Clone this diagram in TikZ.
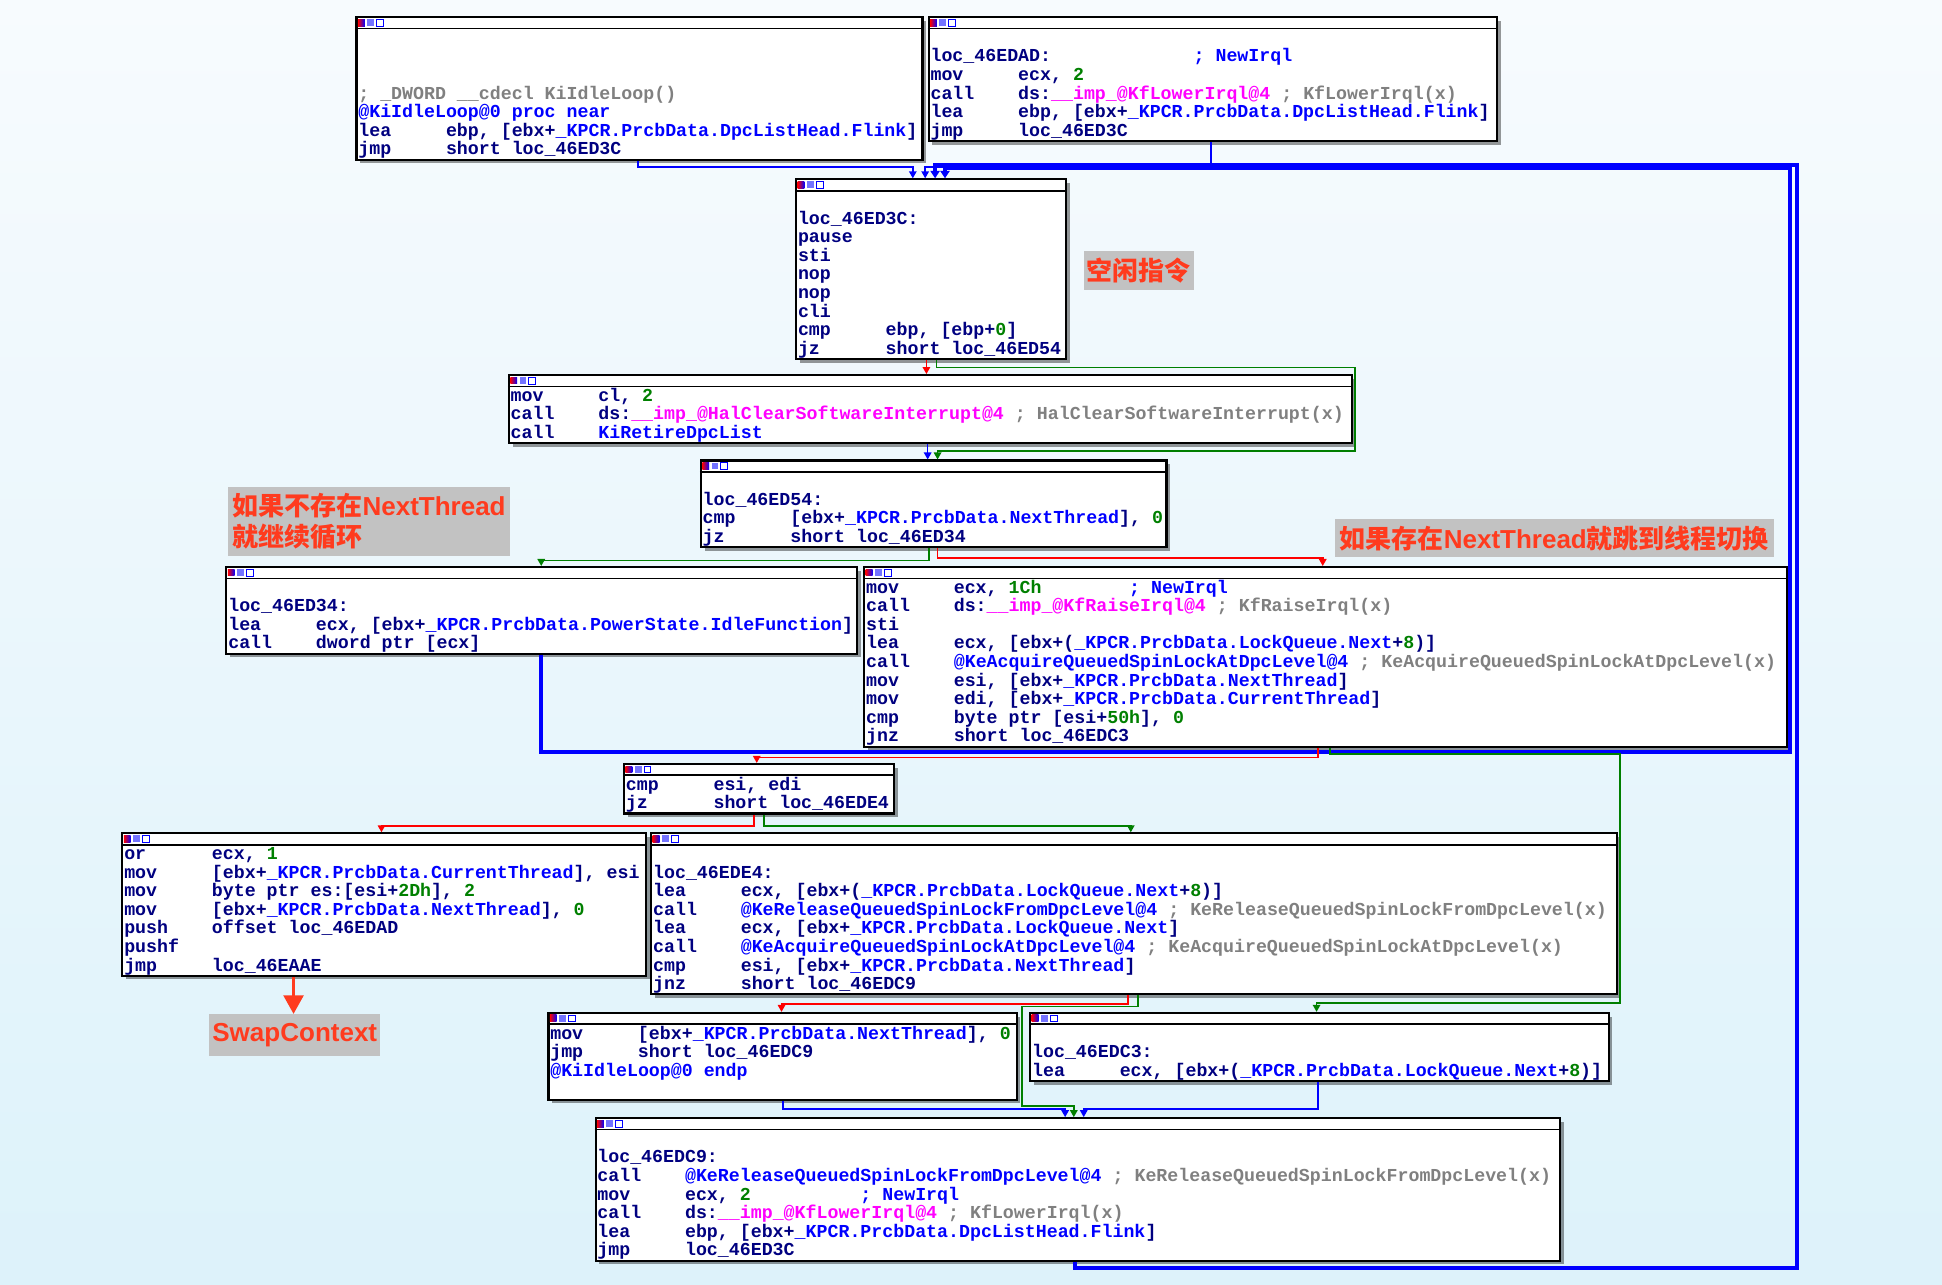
\documentclass[tikz,border=0pt]{standalone}
\usepackage{fontspec}
\usetikzlibrary{arrows.meta,calc,shadows}
\newfontfamily\idafont{Liberation Mono}
\newfontfamily\cjkfont{Noto Sans CJK SC}
\newfontfamily\latfont{Liberation Sans}
\definecolor{idanavy}{HTML}{000080}
\definecolor{idablue}{HTML}{0000FF}
\definecolor{idagreen}{HTML}{008000}
\definecolor{idapink}{HTML}{FF00FF}
\definecolor{idagray}{HTML}{808080}
\definecolor{lblred}{HTML}{FF3B1E}
\definecolor{lblgray}{HTML}{C2C2C2}
\definecolor{bgtop}{HTML}{F7FBFE}
\definecolor{bgbot}{HTML}{DDF2FA}
\definecolor{edgeblue}{HTML}{0000FF}
\definecolor{edgegreen}{HTML}{007F00}
\definecolor{edgered}{HTML}{FF0000}

\newlength\cw \setlength\cw{5.31pt}
\newcommand\asmfont{\idafont\bfseries\fontsize{8.85}{9}\selectfont\lineskiplimit=-20pt}
\newcommand\rs{\rule[-2pt]{0pt}{9pt}}
\newcommand\ins[2]{\makebox[8\cw][l]{#1}#2}
\newcommand\pad[2]{\makebox[#1\cw][l]{#2}}
\newcommand\nm[1]{\textcolor{idablue}{#1}}
\newcommand\nb[1]{\textcolor{idagreen}{#1}}
\newcommand\im[1]{\textcolor{idapink}{#1}}
\newcommand\cm[1]{\textcolor{idagray}{#1}}
\newcommand\lat[1]{{\latfont\fontsize{12.6}{15}\selectfont #1}}

\begin{document}
\begin{tikzpicture}[x=0.6pt, y=-0.6pt,
  block/.style={draw=black, line width=1pt, fill=white, rectangle, inner sep=0pt, anchor=north west,
    drop shadow={shadow xshift=1.8pt, shadow yshift=-1.8pt, fill=black, opacity=0.4}},
  asm/.style={font=\asmfont, text=idanavy, align=left, inner sep=0pt, anchor=north west},
  note/.style={fill=lblgray, text=lblred, font=\cjkfont\bfseries\fontsize{12.6}{15}\selectfont, inner sep=0pt},
  jmp/.style={draw=edgeblue, line width=0.8pt, -{Triangle[length=3.4pt,width=3.6pt]}},
  back/.style={draw=edgeblue, line width=1.8pt, -{Triangle[length=3.6pt,width=4.4pt]}},
  tru/.style={draw=edgegreen, line width=0.8pt, -{Triangle[length=3.4pt,width=3.6pt]}},
  fls/.style={draw=edgered, line width=0.8pt, -{Triangle[length=3.4pt,width=3.6pt]}},
  swaparrow/.style={draw=lblred, line width=1.7pt, -{Triangle[length=9pt,width=9.5pt]}}]
\useasboundingbox (0,0) rectangle (1568,1037);
\shade[top color=bgtop, bottom color=bgbot] (0,0) rectangle (1568,1037);

% blocks: name/x/y/width/rows
\foreach \id/\bx/\by/\bw/\bk in {A/287/13/457/7, B/749/13/459/6, C/642/144/218/9, D/410/302/681/3,
    E/565/371/376/4, F/182/457/509/4, G/697/457/745/9, H/503/616/218/2, I/98/672/423/7,
    J/525/672/780/8, K/442/817/378/4, L/831/817/467/3, M/480/902/779/7} {
  \node[block, minimum width=\bw*0.6pt, minimum height={(10+15*\bk)*0.6pt}] (\id) at (\bx,\by) {};
  \draw[line width=0.8pt] ($(\id.north west)+(0,10)$) -- ($(\id.north east)+(0,10)$);
  \shade[left color=red, right color=blue] ($(\id.north west)+(2,2.5)$) rectangle ++(5.5,5.5);
  \fill[blue!55] ($(\id.north west)+(9.5,2.5)$) rectangle ++(5.5,5.5);
  \draw[blue, line width=0.4pt, fill=white] ($(\id.north west)+(17,2.5)$) rectangle ++(5.5,5.5);
}

\node[asm] (At) at ($(A.north west)+(2,10)$) {\rs\\\rs\\\rs\\
  \rs\cm{; \_DWORD \_\_cdecl KiIdleLoop()}\\
  \rs\nm{@KiIdleLoop@0 proc near}\\
  \rs\ins{lea}{ebp, [ebx+\nm{\_KPCR.PrcbData.DpcListHead.Flink}]}\\
  \rs\ins{jmp}{short loc\_46ED3C}};
\node[asm] (Bt) at ($(B.north west)+(2,10)$) {\rs\\
  \rs\pad{24}{loc\_46EDAD:}\nm{; NewIrql}\\
  \rs\ins{mov}{ecx, \nb{2}}\\
  \rs\ins{call}{ds:\im{\_\_imp\_@KfLowerIrql@4} \cm{; KfLowerIrql(x)}}\\
  \rs\ins{lea}{ebp, [ebx+\nm{\_KPCR.PrcbData.DpcListHead.Flink}]}\\
  \rs\ins{jmp}{loc\_46ED3C}};
\node[asm] (Ct) at ($(C.north west)+(2,10)$) {\rs\\
  \rs loc\_46ED3C:\\ \rs pause\\ \rs sti\\ \rs nop\\ \rs nop\\ \rs cli\\
  \rs\ins{cmp}{ebp, [ebp+\nb{0}]}\\
  \rs\ins{jz}{short loc\_46ED54}};
\node[asm] (Dt) at ($(D.north west)+(2,10)$) {\rs\ins{mov}{cl, \nb{2}}\\
  \rs\ins{call}{ds:\im{\_\_imp\_@HalClearSoftwareInterrupt@4} \cm{; HalClearSoftwareInterrupt(x)}}\\
  \rs\ins{call}{\nm{KiRetireDpcList}}};
\node[asm] (Et) at ($(E.north west)+(2,10)$) {\rs\\
  \rs loc\_46ED54:\\
  \rs\ins{cmp}{[ebx+\nm{\_KPCR.PrcbData.NextThread}], \nb{0}}\\
  \rs\ins{jz}{short loc\_46ED34}};
\node[asm] (Ft) at ($(F.north west)+(2,10)$) {\rs\\
  \rs loc\_46ED34:\\
  \rs\ins{lea}{ecx, [ebx+\nm{\_KPCR.PrcbData.PowerState.IdleFunction}]}\\
  \rs\ins{call}{dword ptr [ecx]}};
\node[asm] (Gt) at ($(G.north west)+(2,10)$) {\rs\ins{mov}{\pad{16}{ecx, \nb{1Ch}}\nm{; NewIrql}}\\
  \rs\ins{call}{ds:\im{\_\_imp\_@KfRaiseIrql@4} \cm{; KfRaiseIrql(x)}}\\
  \rs sti\\
  \rs\ins{lea}{ecx, [ebx+(\nm{\_KPCR.PrcbData.LockQueue.Next}+\nb{8})]}\\
  \rs\ins{call}{\nm{@KeAcquireQueuedSpinLockAtDpcLevel@4} \cm{; KeAcquireQueuedSpinLockAtDpcLevel(x)}}\\
  \rs\ins{mov}{esi, [ebx+\nm{\_KPCR.PrcbData.NextThread}]}\\
  \rs\ins{mov}{edi, [ebx+\nm{\_KPCR.PrcbData.CurrentThread}]}\\
  \rs\ins{cmp}{byte ptr [esi+\nb{50h}], \nb{0}}\\
  \rs\ins{jnz}{short loc\_46EDC3}};
\node[asm] (Ht) at ($(H.north west)+(2,10)$) {\rs\ins{cmp}{esi, edi}\\
  \rs\ins{jz}{short loc\_46EDE4}};
\node[asm] (It) at ($(I.north west)+(2,10)$) {\rs\ins{or}{ecx, \nb{1}}\\
  \rs\ins{mov}{[ebx+\nm{\_KPCR.PrcbData.CurrentThread}], esi}\\
  \rs\ins{mov}{byte ptr es:[esi+\nb{2Dh}], \nb{2}}\\
  \rs\ins{mov}{[ebx+\nm{\_KPCR.PrcbData.NextThread}], \nb{0}}\\
  \rs\ins{push}{offset loc\_46EDAD}\\
  \rs pushf\\
  \rs\ins{jmp}{loc\_46EAAE}};
\node[asm] (Jt) at ($(J.north west)+(2,10)$) {\rs\\
  \rs loc\_46EDE4:\\
  \rs\ins{lea}{ecx, [ebx+(\nm{\_KPCR.PrcbData.LockQueue.Next}+\nb{8})]}\\
  \rs\ins{call}{\nm{@KeReleaseQueuedSpinLockFromDpcLevel@4} \cm{; KeReleaseQueuedSpinLockFromDpcLevel(x)}}\\
  \rs\ins{lea}{ecx, [ebx+\nm{\_KPCR.PrcbData.LockQueue.Next}]}\\
  \rs\ins{call}{\nm{@KeAcquireQueuedSpinLockAtDpcLevel@4} \cm{; KeAcquireQueuedSpinLockAtDpcLevel(x)}}\\
  \rs\ins{cmp}{esi, [ebx+\nm{\_KPCR.PrcbData.NextThread}]}\\
  \rs\ins{jnz}{short loc\_46EDC9}};
\node[asm] (Kt) at ($(K.north west)+(2,10)$) {\rs\ins{mov}{[ebx+\nm{\_KPCR.PrcbData.NextThread}], \nb{0}}\\
  \rs\ins{jmp}{short loc\_46EDC9}\\
  \rs\nm{@KiIdleLoop@0 endp}};
\node[asm] (Lt) at ($(L.north west)+(2,10)$) {\rs\\
  \rs loc\_46EDC3:\\
  \rs\ins{lea}{ecx, [ebx+(\nm{\_KPCR.PrcbData.LockQueue.Next}+\nb{8})]}};
\node[asm] (Mt) at ($(M.north west)+(2,10)$) {\rs\\
  \rs loc\_46EDC9:\\
  \rs\ins{call}{\nm{@KeReleaseQueuedSpinLockFromDpcLevel@4} \cm{; KeReleaseQueuedSpinLockFromDpcLevel(x)}}\\
  \rs\ins{mov}{\pad{16}{ecx, \nb{2}}\nm{; NewIrql}}\\
  \rs\ins{call}{ds:\im{\_\_imp\_@KfLowerIrql@4} \cm{; KfLowerIrql(x)}}\\
  \rs\ins{lea}{ebp, [ebx+\nm{\_KPCR.PrcbData.DpcListHead.Flink}]}\\
  \rs\ins{jmp}{loc\_46ED3C}};

% notes
\node[note, minimum width=53.4pt, minimum height=18.6pt] (idle) at (919.5,218.5) {空闲指令};
\node[note, minimum width=136.8pt, minimum height=33.6pt, align=left] (nonext) at (298,421)
  {如果不存在\lat{NextThread}\\就继续循环};
\node[note, minimum width=212.4pt, minimum height=18.6pt] (hasnext) at (1255,434.5)
  {如果存在\lat{NextThread}就跳到线程切换};
\node[note, minimum width=82.8pt, minimum height=20.4pt] (swap) at (238,836) {\lat{SwapContext}};

% blue edges
\draw[jmp] (A.south -| 515,0) -- ++(0,5) -| (C.north -| 737,0);
\draw[jmp] (B.south -| 978,0) -- ++(0,20) -| (C.north -| 747,0);
\draw[jmp] (D.south -| 749,0) -- (E.north -| 749,0);
\draw[jmp] (K.south -| 632,0) -- ++(0,7) -| (M.north -| 860,0);
\draw[jmp] (L.south -| 1064,0) -- ++(0,22) -| (M.north -| 875,0);
\draw[back] (F.south -| 437,0) |- (1445,607) |- (763,136) -- (C.north -| 763,0);
\draw[back] (M.south -| 868,0) -- ++(0,5) -| (1451,133) -| (C.north -| 755,0);
% green edges
\draw[tru] (C.south -| 756,0) -- ++(0,6) -| (1094,364) -| (E.north -| 757,0);
\draw[tru] (E.south -| 750,0) -- ++(0,10) -| (F.north -| 437,0);
\draw[tru] (G.south -| 1074,0) -- ++(0,5) -| (1308,810) -| (L.north -| 1063,0);
\draw[tru] (H.south -| 617,0) -- ++(0,9) -| (J.north -| 913,0);
\draw[tru] (J.south -| 919,0) -- ++(0,9) -| (825,893) -| (M.north -| 867,0);
% red edges
\draw[fls] (C.south -| 748,0) -- (D.north -| 748,0);
\draw[fls] (E.south -| 757,0) -- ++(0,8) -| (G.north -| 1068,0);
\draw[fls] (G.south -| 1064,0) -- ++(0,8) -| (H.north -| 611,0);
\draw[fls] (H.south -| 609,0) -- ++(0,9) -| (I.north -| 308,0);
\draw[fls] (J.south -| 911,0) -- ++(0,7) -| (K.north -| 631,0);
\draw[swaparrow] (I.south -| 237,0) -- (swap.north -| 237,0);
\end{tikzpicture}
\end{document}
